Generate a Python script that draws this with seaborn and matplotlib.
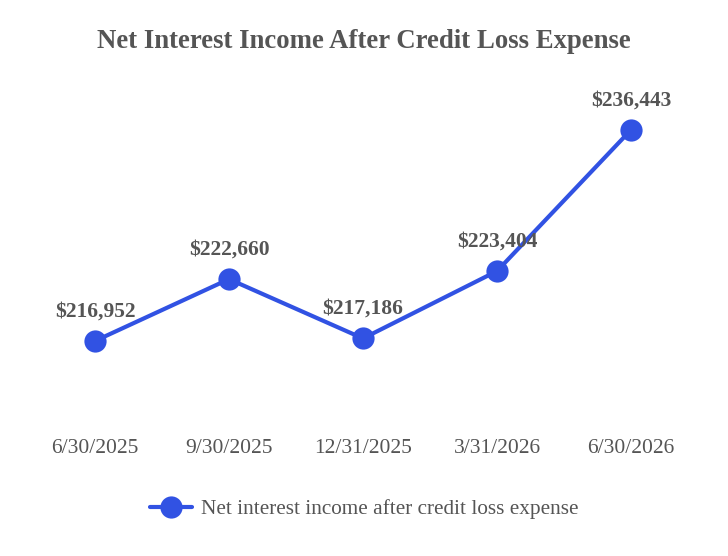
import matplotlib
matplotlib.use("Agg")
import matplotlib.pyplot as plt
import seaborn as sns
import pandas as pd

periods = ["6/30/2025", "9/30/2025", "12/31/2025", "3/31/2026", "6/30/2026"]
income = [216952, 222660, 217186, 223404, 236443]
series_name = "Net interest income after credit loss expense"

BLUE = "#3152e3"
GRAY = "#555555"

sns.set_theme(style="white")
plt.rcParams["font.family"] = ["Liberation Serif", "DejaVu Serif"]

df = pd.DataFrame({"pos": range(len(periods)), "value": income})

fig = plt.figure(figsize=(7.28, 5.56), dpi=100)
ax = fig.add_axes([28 / 728, 1 - 400 / 556, 670 / 728, 300 / 556])

sns.lineplot(data=df, x="pos", y="value", ax=ax, color=BLUE, linewidth=3,
             marker="o", markersize=16, markeredgewidth=0, label=series_name)

for x, v in zip(df["pos"], df["value"]):
    ax.annotate(f"${v:,}", (x, v), xytext=(0, 14), textcoords="offset points",
                ha="center", va="bottom", fontsize=15.5, fontweight="bold", color=GRAY)

ax.set_xlim(-0.5, 4.5)
ax.set_ylim(211500, 239200)
ax.set_xticks(range(len(periods)))
ax.set_xticklabels(periods, fontsize=15.5, color=GRAY)
ax.tick_params(axis="x", length=0, pad=28)
ax.set_yticks([])
ax.set_xlabel("")
ax.set_ylabel("")
for s in ax.spines.values():
    s.set_visible(False)

ax.get_legend().remove()
handles, labels = ax.get_legend_handles_labels()
fig.legend(handles, labels, loc="center", bbox_to_anchor=(0.5, 1 - 509 / 556),
           frameon=False, fontsize=15.3, labelcolor=GRAY, handlelength=2.0,
           handletextpad=0.4)

fig.suptitle("Net Interest Income After Credit Loss Expense", y=1 - 42 / 556,
             va="center", fontsize=19.3, fontweight="bold", color=GRAY)

fig.savefig("out.png", dpi=100)
